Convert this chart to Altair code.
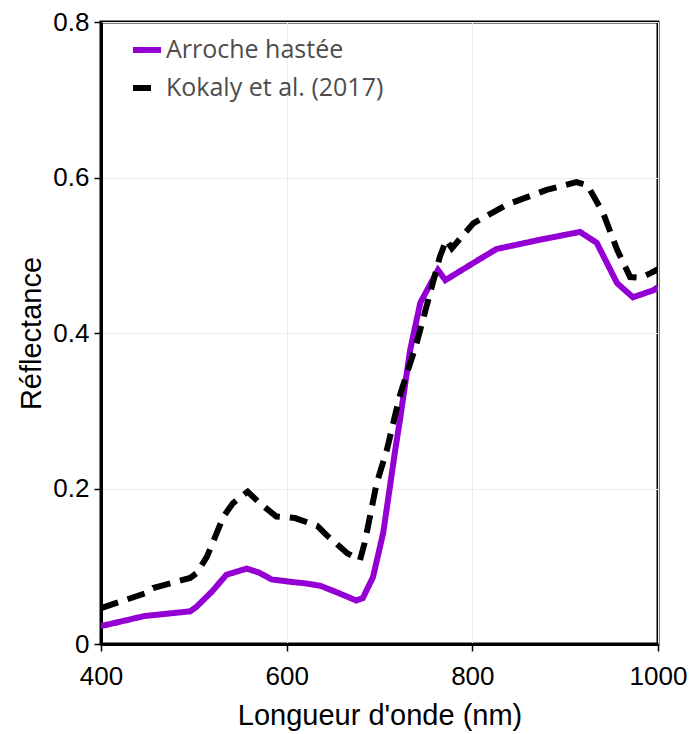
import altair as alt
import pandas as pd

wl_a = [400, 447, 496, 503, 520, 535, 557, 570, 584, 604, 620, 636, 655, 675, 682, 693, 704, 717, 722, 733, 744, 763, 771, 801, 826, 873, 916, 934, 956, 973, 995, 1000]
r_a = [0.023, 0.036, 0.042, 0.048, 0.068, 0.089, 0.097, 0.092, 0.083, 0.080, 0.078, 0.075, 0.066, 0.056, 0.059, 0.086, 0.143, 0.25, 0.288, 0.378, 0.439, 0.481, 0.468, 0.49, 0.508, 0.52, 0.530, 0.516, 0.464, 0.446, 0.455, 0.459]

wl_k = [400, 447, 456, 496, 503, 514, 532, 542, 558, 571, 589, 609, 633, 643, 665, 679, 684, 697, 708, 722, 740, 765, 772, 778, 801, 837, 880, 912, 924, 941, 956, 970, 981, 992, 1000]
r_k = [0.046, 0.065, 0.072, 0.085, 0.091, 0.112, 0.164, 0.181, 0.196, 0.181, 0.164, 0.162, 0.152, 0.140, 0.117, 0.108, 0.13, 0.207, 0.25, 0.32, 0.387, 0.498, 0.52, 0.509, 0.541, 0.565, 0.584, 0.594, 0.590, 0.554, 0.507, 0.472, 0.471, 0.477, 0.482]

series = ["Arroche hastée", "Kokaly et al. (2017)"]

df = pd.concat([
    pd.DataFrame({"wl": wl_a, "r": r_a, "s": series[0]}),
    pd.DataFrame({"wl": wl_k, "r": r_k, "s": series[1]}),
])

leg = alt.Legend(title=None, orient="none", legendX=29, legendY=11,
                 symbolType="stroke", symbolStrokeWidth=6, symbolSize=784,
                 labelFont="Open Sans", labelFontSize=25, labelColor="#4d4d4d",
                 labelLimit=0, rowPadding=8, labelOffset=2, symbolOffset=0)

chart = alt.Chart(df).mark_line(strokeWidth=6, clip=True).encode(
    x=alt.X("wl:Q", scale=alt.Scale(domain=[400, 1000], nice=False, zero=False),
            axis=alt.Axis(title="Longueur d'onde (nm)", values=[400, 600, 800, 1000],
                          labelExpr="format(datum.value, 'd')", labelFlush=False)),
    y=alt.Y("r:Q", scale=alt.Scale(domain=[0, 0.8], nice=False),
            axis=alt.Axis(title="Réflectance", values=[0, 0.2, 0.4, 0.6, 0.8],
                          labelExpr="datum.value == 0 ? '0' : format(datum.value, '.1f')",
                          labelFlush=False)),
    color=alt.Color("s:N", scale=alt.Scale(domain=series, range=["#9400D3", "#000000"]),
                    legend=leg),
    strokeDash=alt.StrokeDash("s:N", scale=alt.Scale(domain=series, range=[[1, 0], [18, 10]]),
                              legend=leg),
    detail="s:N",
).properties(
    width=557, height=622,
    padding={"left": 101, "top": 22, "right": 36, "bottom": 90},
    autosize=alt.AutoSizeParams(type="none"),
).configure_view(
    stroke="black", strokeWidth=3,
).configure_axis(
    labelFont="Liberation Sans", labelFontSize=26, labelColor="black",
    titleFont="Liberation Sans", titleFontSize=29, titleColor="black", titleFontWeight="normal",
    domain=True, domainColor="black", domainWidth=3,
    tickColor="black", tickSize=7, tickWidth=1.5,
    gridColor="#ececec", gridWidth=1,
).configure_axisX(
    labelPadding=12, titlePadding=12,
).configure_axisY(
    labelPadding=5, titlePadding=6,
)

chart.save("out.html", embed_options={"renderer": "svg", "actions": False})
